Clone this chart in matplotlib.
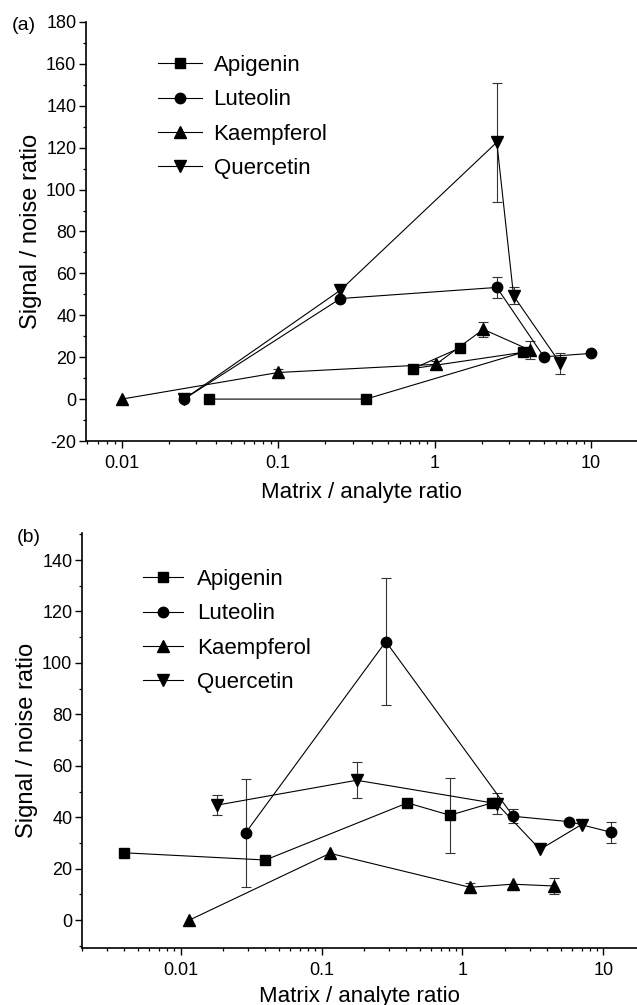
import numpy as np
import matplotlib
matplotlib.use('Agg')
import matplotlib.pyplot as plt
from matplotlib.ticker import FixedLocator, FixedFormatter, LogLocator, MultipleLocator, NullFormatter

plt.rcParams['font.family'] = ['Liberation Sans', 'DejaVu Sans']
plt.rcParams['axes.unicode_minus'] = False

# series names and markers
names = ['Apigenin', 'Luteolin', 'Kaempferol', 'Quercetin']
markers = ['s', 'o', '^', 'v']
msizes = [7, 7.5, 8, 8]

# panel (a) - points in the order they were drawn
a_api_x = [0.036, 0.364, 3.66, 0.73, 1.46]
a_api_y = [0, 0, 22.3, 14.6, 24.5]
a_api_e = [0, 0, 0, 0, 0]
a_lut_x = [0.025, 0.25, 2.5, 5.0, 10.0]
a_lut_y = [0, 48, 53.3, 20.2, 21.8]
a_lut_e = [1, 0, 5, 0, 0]
a_kae_x = [0.01, 0.1, 1.02, 2.05, 4.07]
a_kae_y = [0, 12.7, 16.6, 33.3, 23.4]
a_kae_e = [0, 1.5, 1.5, 3.7, 4.2]
a_que_x = [0.025, 0.25, 2.5, 3.2, 6.37]
a_que_y = [0, 52, 122.6, 49.3, 17]
a_que_e = [1, 0, 28.5, 4, 5]

# panel (b)
b_api_x = [0.004, 0.04, 0.407, 0.814, 1.62]
b_api_y = [26.2, 23.4, 45.6, 40.8, 45.6]
b_api_e = [0, 0, 0, 14.6, 0]
b_lut_x = [0.029, 0.286, 2.29, 5.73, 11.3]
b_lut_y = [34, 108.3, 40.4, 38.3, 34.2]
b_lut_e = [21, 24.7, 2.7, 0, 4]
b_kae_x = [0.0115, 0.115, 1.13, 2.27, 4.48]
b_kae_y = [0, 26, 12.8, 14, 13.3]
b_kae_e = [0, 0, 1.8, 0, 3]
b_que_x = [0.018, 0.178, 1.75, 3.55, 7.0]
b_que_y = [44.7, 54.4, 45.3, 27.5, 37.2]
b_que_e = [4, 7, 4, 0, 0]

xticks = [0.01, 0.1, 1, 10]
xtick_labels = ['0.01', '0.1', '1', '10']

W, H = 637, 1005
fig = plt.figure(figsize=(W / 100, H / 100), dpi=100)


def draw_panel(ax, series, xlim, ylim, letter, letter_xy, leg_xy, leg_hl, leg_pad, xpad):
    for (x, y, e), name, m, ms in zip(series, names, markers, msizes):
        ax.plot(x, y, marker=m, ms=ms, color='black', lw=0.8, label=name, zorder=3)
        ex = [xi for xi, ei in zip(x, e) if ei > 0]
        ey = [yi for yi, ei in zip(y, e) if ei > 0]
        ee = [ei for ei in e if ei > 0]
        ax.errorbar(ex, ey, yerr=ee, fmt='none', ecolor='#333333', elinewidth=0.8,
                    capsize=3.5, capthick=0.8, zorder=2)
    ax.set_xscale('log')
    ax.set_xlim(*xlim)
    ax.set_ylim(*ylim)
    ax.xaxis.set_major_locator(FixedLocator(xticks))
    ax.xaxis.set_major_formatter(FixedFormatter(xtick_labels))
    ax.xaxis.set_minor_locator(LogLocator(base=10, subs=np.arange(2, 10)))
    ax.xaxis.set_minor_formatter(NullFormatter())
    ax.yaxis.set_major_locator(MultipleLocator(20))
    ax.yaxis.set_minor_locator(MultipleLocator(10))
    for s in ['top', 'right']:
        ax.spines[s].set_visible(False)
    for s in ['left', 'bottom']:
        ax.spines[s].set_linewidth(1.2)
    ax.tick_params(which='major', direction='out', length=5, width=1.0, labelsize=13)
    ax.tick_params(which='minor', direction='out', length=2.5, width=0.9)
    ax.tick_params(axis='x', which='major', pad=5)
    ax.tick_params(axis='y', which='major', pad=2)
    ax.set_xlabel('Matrix / analyte ratio', fontsize=16, labelpad=xpad)
    ax.set_ylabel('Signal / noise ratio', fontsize=17, labelpad=3)
    fig.text(letter_xy[0] / W, 1 - letter_xy[1] / H, letter, fontsize=14,
             ha='center', va='center')
    ax.legend(loc='upper left', bbox_to_anchor=(leg_xy[0] / W, 1 - leg_xy[1] / H),
              bbox_transform=fig.transFigure, frameon=False, fontsize=16,
              handlelength=leg_hl, handletextpad=leg_pad, labelspacing=0.6,
              borderpad=0, borderaxespad=0)


ax1 = fig.add_axes([86 / W, 1 - 441 / H, (W - 86) / W, (441 - 22) / H])
draw_panel(ax1,
           [(a_api_x, a_api_y, a_api_e), (a_lut_x, a_lut_y, a_lut_e),
            (a_kae_x, a_kae_y, a_kae_e), (a_que_x, a_que_y, a_que_e)],
           (0.0059, 19.7), (-20, 180), '(a)', (24, 25), (158, 55), 2.0, 0.5, 7)

ax2 = fig.add_axes([82 / W, 1 - 948 / H, (W - 82) / W, (948 - 533) / H])
draw_panel(ax2,
           [(b_api_x, b_api_y, b_api_e), (b_lut_x, b_lut_y, b_lut_e),
            (b_kae_x, b_kae_y, b_kae_e), (b_que_x, b_que_y, b_que_e)],
           (0.002, 17.3), (-10.8, 150.5), '(b)', (29, 537), (143, 569), 1.8, 0.63, 5)

fig.savefig('out.png', dpi=100)
